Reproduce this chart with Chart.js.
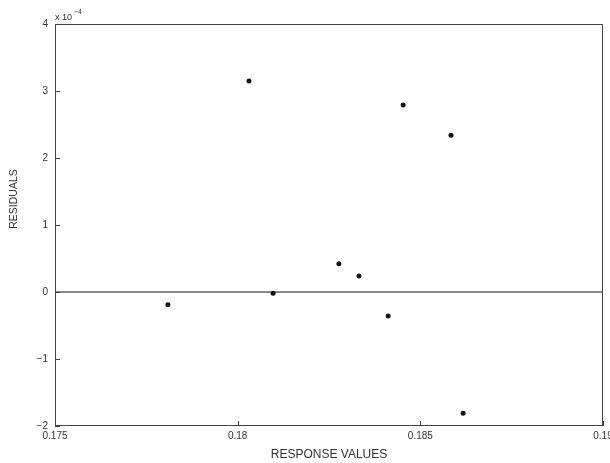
<!DOCTYPE html>
<html>
<head>
<meta charset="utf-8">
<script src="https://cdn.jsdelivr.net/npm/chart.js@4.4.0/dist/chart.umd.min.js"></script>
<style>
  html, body { margin: 0; padding: 0; background: #fff; }
</style>
</head>
<body>
<canvas id="residual-chart" width="610" height="463"></canvas>
<script>
// residuals are in units of 1e-4 (the axis shows the "x 10^-4" factor)
var responseValues = [0.17809, 0.18031, 0.18097, 0.18277, 0.18332, 0.18412, 0.18453, 0.18584, 0.18617];
var residuals = [-0.19, 3.15, -0.02, 0.42, 0.24, -0.36, 2.79, 2.34, -1.81];
var xTicks = [0.175, 0.18, 0.185, 0.19];
var xTickLabels = ['0.175', '0.18', '0.185', '0.19'];
var yTicks = [-2, -1, 0, 1, 2, 3, 4];
var zeroLineX = [0.175, 0.19];

var axisColor = '#444';
var textColor = '#333';
var fontFamily = 'Liberation Sans, Arial, sans-serif';

var points = responseValues.map(function(x, i) {
  return { x: x, y: residuals[i] };
});

var zeroLine = zeroLineX.map(function(x) {
  return { x: x, y: 0 };
});

// box around plot, inward ticks, exponent label, y title
var matlabAxes = {
  id: 'matlabAxes',
  afterDraw: function(chart) {
    var ctx = chart.ctx;
    var area = chart.chartArea;
    var xs = chart.scales.x;
    var ys = chart.scales.y;
    ctx.save();
    ctx.strokeStyle = axisColor;
    ctx.lineWidth = 1;
    ctx.strokeRect(area.left + 0.5, area.top + 0.5, area.right - area.left - 1, area.bottom - area.top - 1);

    ctx.beginPath();
    xs.ticks.forEach(function(t) {
      var px = Math.round(xs.getPixelForValue(t.value)) + 0.5;
      ctx.moveTo(px, area.bottom);
      ctx.lineTo(px, area.bottom - 5);
    });
    ys.ticks.forEach(function(t) {
      var py = Math.round(ys.getPixelForValue(t.value)) + 0.5;
      ctx.moveTo(area.left, py);
      ctx.lineTo(area.left + 5, py);
    });
    ctx.stroke();

    ctx.fillStyle = textColor;
    ctx.textBaseline = 'alphabetic';
    ctx.textAlign = 'left';
    ctx.font = '9px ' + fontFamily;
    ctx.fillText('x 10', area.left, area.top - 4);
    ctx.font = '7px ' + fontFamily;
    ctx.fillText('\u22124', area.left + 19, area.top - 10);

    // y title sits a little above the middle of the axis
    ctx.translate(14, 199);
    ctx.rotate(-Math.PI / 2);
    ctx.textAlign = 'center';
    ctx.textBaseline = 'middle';
    ctx.font = '10.5px ' + fontFamily;
    ctx.fillText('RESIDUALS', 0, 0);
    ctx.restore();
  }
};

var ctx = document.getElementById('residual-chart').getContext('2d');
var residualChart = new Chart(ctx, {
  type: 'scatter',
  data: {
    datasets: [
      {
        data: zeroLine,
        showLine: true,
        borderColor: '#111',
        borderWidth: 1,
        pointRadius: 0
      },
      {
        data: points,
        backgroundColor: '#111',
        borderColor: '#111',
        pointRadius: 2.5,
        pointBorderWidth: 0
      }
    ]
  },
  options: {
    responsive: false,
    animation: false,
    layout: {
      padding: { top: 24, right: 7, left: 0, bottom: 0 }
    },
    plugins: {
      legend: { display: false },
      tooltip: { enabled: false }
    },
    scales: {
      x: {
        type: 'linear',
        min: 0.175,
        max: 0.19,
        afterBuildTicks: function(scale) {
          scale.ticks = xTicks.map(function(v) { return { value: v }; });
        },
        afterFit: function(scale) {
          scale.height = 37;
          scale.paddingLeft = 0;
          scale.paddingRight = 0;
        },
        grid: { display: false, drawTicks: false },
        border: { display: false },
        ticks: {
          padding: 4,
          maxRotation: 0,
          color: textColor,
          font: { family: fontFamily, size: 10 },
          callback: function(value) {
            var i = xTicks.indexOf(value);
            return i >= 0 ? xTickLabels[i] : '';
          }
        },
        title: {
          display: true,
          text: 'RESPONSE VALUES',
          color: textColor,
          font: { family: fontFamily, size: 12 },
          padding: { top: 0, bottom: 1 }
        }
      },
      y: {
        min: -2,
        max: 4,
        afterBuildTicks: function(scale) {
          scale.ticks = yTicks.map(function(v) { return { value: v }; });
        },
        afterFit: function(scale) {
          scale.width = 55;
        },
        grid: { display: false, drawTicks: false },
        border: { display: false },
        ticks: {
          padding: 7,
          color: textColor,
          font: { family: fontFamily, size: 10 },
          callback: function(value) {
            return value < 0 ? '\u2212' + Math.abs(value) : String(value);
          }
        },
        title: { display: false }
      }
    }
  },
  plugins: [matlabAxes]
});
</script>
</body>
</html>
